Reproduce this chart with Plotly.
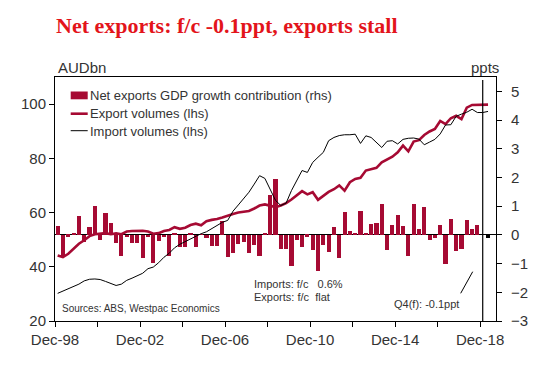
import plotly.graph_objects as go

# ---- data (quarter index 0 = Dec-98) ----
net_exports = [0.31, -0.72, -0.06, 0.08, 0.66, -0.24, 0.29, 1.02, -0.17, 0.77,
               0.43, -0.30, -0.73, -0.08, -0.27, -0.27, -0.80, -0.07, -0.97, -0.23,
               -0.08, -0.74, 0.07, -0.43, -0.43, 0.05, -0.43, 0.02, -0.10, -0.37,
               -0.40, 0.48, -0.78, -0.63, -0.31, -0.26, -0.63, -0.36, -0.72, 0.08,
               1.40, 1.95, -0.49, -0.49, -1.10, -0.17, -0.43, -0.06, -0.54, -1.25,
               -0.35, -0.58, 0.29, -0.79, 0.78, 0.14, 0.08, 0.84, 0.08, 0.39,
               0.43, 1.09, -0.51, 0.36, 0.71, 0.30, -0.74, 1.06, 0.19, 0.98,
               -0.19, -0.10, 0.36, -1.03, 0.57, -0.55, -0.48, 0.53, 0.19, 0.36]
forecast_q = [81]
forecast_val = [-0.1]

export_vol = [44.2, 43.6, 44.8, 46.7, 48.5, 49.8, 51.3, 52.0, 52.3, 52.4,
              52.0, 52.3, 52.0, 53.0, 53.2, 53.3, 53.3, 53.0, 52.2, 52.4,
              53.2, 53.6, 54.6, 54.0, 54.4, 55.4, 55.9, 55.3, 56.8, 57.3,
              57.6, 58.2, 58.9, 59.5, 60.0, 60.3, 60.6, 61.5, 62.6, 63.0,
              62.5, 62.0, 62.6, 63.5, 64.8, 66.5, 67.9, 66.7, 67.5, 64.7,
              66.2, 67.6, 68.6, 70.0, 68.1, 71.2, 72.4, 72.8, 75.5, 76.1,
              76.5, 78.5, 79.4, 80.6, 82.2, 84.7, 82.6, 86.2, 86.7, 88.6,
              89.9, 90.8, 93.8, 92.6, 94.8, 95.7, 94.5, 98.7, 99.7, 99.8,
              99.8, 99.8]
import_vol = [30.2, 31.0, 32.0, 32.8, 33.6, 34.8, 35.4, 35.5, 35.3, 34.6,
              33.7, 33.1, 33.6, 35.0, 35.8, 36.8, 37.6, 39.3, 39.9, 41.5,
              43.5, 45.0, 47.0, 48.3, 49.3, 50.3, 51.5, 52.2, 52.9, 54.0,
              55.2, 56.4, 57.1, 60.5, 62.8, 65.0, 67.5, 70.5, 73.6, 72.6,
              68.5, 64.5, 62.6, 63.5, 68.1, 71.8, 75.5, 74.8, 78.5, 80.4,
              82.2, 86.5, 87.7, 88.4, 88.7, 88.7, 88.9, 85.5, 88.3, 87.7,
              85.9, 84.0, 86.3, 86.5, 85.3, 87.0, 87.4, 87.5, 87.1, 85.0,
              86.0, 87.0, 89.0, 92.3, 92.4, 95.5, 96.3, 97.0, 98.1, 96.9,
              96.9, 97.3]

tick_pos = [-0.5 + 8 * k for k in range(11)]
tick_labels = ["Dec-98", "", "Dec-02", "", "Dec-06", "", "Dec-10", "", "Dec-14", "", "Dec-18"]
forecast_line_q = 80

bar_q = list(range(len(net_exports)))
line_q = list(range(len(export_vol)))

CRIMSON = "#A60A33"
TXT = "#333333"
FONT = "Liberation Sans, Arial, sans-serif"

fig = go.Figure()
fig.add_trace(go.Bar(x=bar_q, y=net_exports, marker_color=CRIMSON, marker_line_width=0,
                     width=0.78, yaxis="y", name="Net exports GDP growth contribution (rhs)",
                     showlegend=False))
fig.add_trace(go.Bar(x=forecast_q, y=forecast_val, marker_color="black", marker_line_width=0,
                     width=0.6, yaxis="y", showlegend=False))
fig.add_trace(go.Scatter(x=line_q, y=export_vol, mode="lines", yaxis="y2",
                         line=dict(color=CRIMSON, width=2.6), name="Export volumes (lhs)",
                         showlegend=False))
fig.add_trace(go.Scatter(x=line_q, y=import_vol, mode="lines", yaxis="y2",
                         line=dict(color="black", width=1), name="Import volumes (lhs)",
                         showlegend=False))

# the page body has an 8px default margin, so the figure is 8px smaller
# and its margins are 8px smaller to keep the plot area where the reference has it
axis_font = dict(family=FONT, size=15, color=TXT)
fig.update_layout(
    width=537, height=366,
    margin=dict(l=47, r=49, t=69, b=53),
    paper_bgcolor="white", plot_bgcolor="white",
    showlegend=False,
    bargap=0,
    xaxis=dict(range=[-0.5, 82.5], tickmode="array", tickvals=tick_pos, ticktext=tick_labels,
               showline=True, linecolor="black", linewidth=1, mirror=True,
               ticks="outside", ticklen=5, tickcolor="black", showgrid=False, zeroline=False,
               tickfont=axis_font),
    yaxis=dict(side="right", range=[-3, 5.5], tickvals=[-3, -2, -1, 0, 1, 2, 3, 4, 5],
               showline=True, linecolor="black", linewidth=1,
               ticks="outside", ticklen=5, tickcolor="black", showgrid=False,
               zeroline=True, zerolinecolor="black", zerolinewidth=1,
               tickfont=axis_font, ticklabelstandoff=6),
    yaxis2=dict(side="left", overlaying="y", range=[20, 110], tickvals=[20, 40, 60, 80, 100],
                showline=True, linecolor="black", linewidth=1,
                ticks="outside", ticklen=5, tickcolor="black", showgrid=False, zeroline=False,
                tickfont=axis_font),
)

def px_x(p):
    return (p - 55) / 441.0

def px_y(p):
    return (321 - p) / 244.0

shapes = [
    # forecast separator
    dict(type="line", xref="x", yref="paper", x0=forecast_line_q, x1=forecast_line_q,
         y0=0, y1=px_y(80), line=dict(color="black", width=1.2)),
    # pointer to forecast
    dict(type="line", xref="paper", yref="paper", x0=px_x(460.7), y0=px_y(293.3),
         x1=px_x(472.7), y1=px_y(271.7), line=dict(color="black", width=1)),
    # custom legend symbols
    dict(type="rect", xref="paper", yref="paper", x0=px_x(70.7), x1=px_x(87.7),
         y0=px_y(99.3), y1=px_y(91.5), fillcolor=CRIMSON, line=dict(width=0)),
    dict(type="line", xref="paper", yref="paper", x0=px_x(70.7), x1=px_x(87.7),
         y0=px_y(113.7), y1=px_y(113.7), line=dict(color=CRIMSON, width=2.6)),
    dict(type="line", xref="paper", yref="paper", x0=px_x(70.7), x1=px_x(87.7),
         y0=px_y(130.7), y1=px_y(130.7), line=dict(color="black", width=1)),
]
fig.update_layout(shapes=shapes)

def note(text, x, y, size, xanchor="left", color=TXT, family=FONT):
    fig.add_annotation(text=text, xref="paper", yref="paper", x=x, y=y,
                       xanchor=xanchor, yanchor="middle", showarrow=False,
                       font=dict(family=family, size=size, color=color))

note("<b>Net exports: f/c -0.1ppt, exports stall</b>", px_x(53.5), px_y(25), 22,
     color="#E3141B", family="Liberation Serif, Times New Roman, serif")
note("AUDbn", px_x(56), px_y(67), 15)
note("ppts", px_x(501), px_y(67), 15, xanchor="right")
note("Net exports GDP growth contribution (rhs)", px_x(87.5), px_y(95.5), 13)
note("Export volumes (lhs)", px_x(87.5), px_y(113.5), 13)
note("Import volumes (lhs)", px_x(87.5), px_y(131), 13)
note("Sources: ABS, Westpac Economics", px_x(60), px_y(308.5), 10)
note("Imports: f/c   0.6%", px_x(252), px_y(284), 11)
note("Exports: f/c  flat", px_x(252), px_y(297), 11)
note("Q4(f): -0.1ppt", px_x(392), px_y(303.5), 11)

fig.write_html("out.html")
